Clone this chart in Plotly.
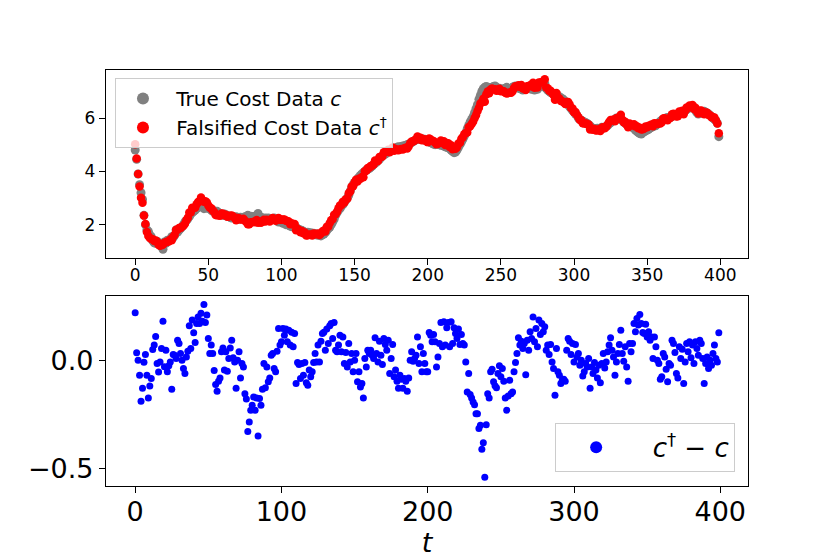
import plotly.graph_objects as go
from plotly.subplots import make_subplots

t = list(range(400))

true_cost = [
    4.80, 4.45, 3.90, 3.50, 3.20, 2.95, 2.35, 2.00, 1.80, 1.75,
    1.62, 1.55, 1.40, 1.32, 1.30, 1.38, 1.30, 1.22, 1.18, 1.08,
    1.35, 1.30, 1.42, 1.40, 1.45, 1.55, 1.52, 1.60, 1.80, 1.72,
    1.80, 1.85, 1.92, 2.00, 2.10, 2.15, 2.22, 2.30, 2.40, 2.45,
    2.50, 2.55, 2.60, 2.65, 2.70, 2.80, 2.72, 2.60, 2.70, 2.62,
    2.62, 2.60, 2.55, 2.50, 2.52, 2.48, 2.50, 2.45, 2.42, 2.38,
    2.35, 2.40, 2.33, 2.35, 2.30, 2.28, 2.25, 2.30, 2.27, 2.30,
    2.25, 2.20, 2.28, 2.22, 2.25, 2.30, 2.28, 2.35, 2.30, 2.32,
    2.30, 2.28, 2.32, 2.35, 2.42, 2.30, 2.28, 2.25, 2.20, 2.25,
    2.22, 2.25, 2.20, 2.18, 2.22, 2.25, 2.20, 2.15, 2.10, 2.12,
    2.10, 2.05, 2.08, 2.00, 2.05, 1.98, 1.95, 1.92, 1.95, 1.90,
    1.90, 1.85, 1.82, 1.80, 1.78, 1.75, 1.72, 1.70, 1.72, 1.68,
    1.70, 1.65, 1.68, 1.62, 1.65, 1.60, 1.62, 1.58, 1.62, 1.65,
    1.70, 1.78, 1.85, 1.90, 2.00, 2.10, 2.20, 2.35, 2.45, 2.55,
    2.60, 2.70, 2.75, 2.85, 2.92, 3.00, 3.10, 3.25, 3.40, 3.50,
    3.58, 3.65, 3.72, 3.78, 3.85, 3.90, 3.95, 4.00, 4.05, 4.08,
    4.10, 4.15, 4.20, 4.25, 4.30, 4.35, 4.40, 4.45, 4.52, 4.58,
    4.62, 4.65, 4.70, 4.72, 4.78, 4.80, 4.82, 4.85, 4.88, 4.90,
    4.92, 4.90, 4.93, 4.95, 4.95, 4.98, 5.00, 5.02, 5.05, 5.08,
    5.12, 5.15, 5.18, 5.20, 5.22, 5.20, 5.22, 5.18, 5.20, 5.18,
    5.15, 5.10, 5.08, 5.05, 5.02, 5.00, 5.05, 5.02, 5.00, 4.98,
    5.00, 4.95, 4.92, 4.90, 4.88, 4.85, 4.80, 4.75, 4.70, 4.72,
    4.80, 4.90, 5.00, 5.10, 5.20, 5.32, 5.45, 5.60, 5.72, 5.85,
    5.95, 6.05, 6.20, 6.35, 6.50, 6.70, 6.85, 7.00, 7.10, 7.15,
    7.18, 7.15, 7.10, 7.12, 7.15, 7.18, 7.20, 7.15, 7.10, 7.12,
    7.08, 7.05, 7.10, 7.12, 7.15, 7.10, 7.05, 7.10, 7.15, 7.18,
    7.20, 7.15, 7.12, 7.10, 7.15, 7.05, 7.08, 7.12, 7.10, 7.15,
    7.10, 7.08, 7.12, 7.05, 7.10, 7.08, 7.15, 7.20, 7.18, 7.25,
    7.30, 7.10, 7.05, 7.00, 6.95, 6.95, 6.90, 6.85, 6.88, 6.82,
    6.80, 6.75, 6.72, 6.68, 6.62, 6.55, 6.50, 6.42, 6.35, 6.28,
    6.22, 6.15, 6.10, 6.00, 5.95, 5.92, 5.88, 5.85, 5.82, 5.80,
    5.75, 5.70, 5.65, 5.62, 5.60, 5.58, 5.62, 5.60, 5.62, 5.65,
    5.62, 5.65, 5.68, 5.72, 5.78, 5.82, 5.88, 5.92, 5.95, 6.00,
    5.98, 5.95, 5.98, 5.90, 5.85, 5.80, 5.78, 5.75, 5.72, 5.70,
    5.65, 5.60, 5.55, 5.50, 5.45, 5.42, 5.40, 5.45, 5.48, 5.52,
    5.55, 5.58, 5.62, 5.65, 5.68, 5.70, 5.72, 5.78, 5.82, 5.88,
    5.92, 5.95, 5.98, 6.00, 6.02, 6.00, 6.03, 6.05, 6.08, 6.10,
    6.12, 6.15, 6.18, 6.20, 6.22, 6.25, 6.28, 6.32, 6.35, 6.38,
    6.40, 6.42, 6.35, 6.30, 6.20, 6.15, 6.18, 6.20, 6.22, 6.25,
    6.22, 6.18, 6.15, 6.10, 6.05, 6.00, 5.95, 5.90, 5.80, 5.30,
]

# Falsification c_dagger - c
diff = [
    0.220, 0.034, 0.000, -0.070, -0.190, -0.130, -0.010, 0.026, -0.070, -0.175,
    -0.120, -0.085, 0.050, 0.070, 0.110, -0.015, -0.055, -0.008, 0.054, 0.180,
    -0.030, 0.046, -0.054, -0.026, -0.008, -0.135, 0.026, 0.023, 0.008, 0.093,
    0.077, 0.031, 0.000, -0.039, -0.062, 0.015, 0.042, 0.160, 0.054, 0.186,
    0.127, 0.082, 0.170, 0.200, 0.170, 0.217, 0.180, 0.258, 0.175, 0.210,
    0.100, 0.031, 0.070, 0.031, -0.048, -0.113, -0.144, -0.098, -0.082, 0.039,
    0.057, -0.046, 0.039, -0.051, 0.008, 0.057, 0.093, 0.011, -0.008, -0.130,
    0.000, 0.039, -0.082, -0.015, -0.031, -0.155, -0.180, -0.330, -0.286, -0.232,
    -0.209, -0.170, -0.232, -0.175, -0.351, -0.178, -0.209, -0.135, -0.015, -0.128,
    -0.031, -0.100, -0.082, 0.023, 0.031, -0.039, -0.054, 0.042, 0.147, 0.070,
    0.085, 0.147, 0.116, 0.144, 0.085, 0.139, 0.070, 0.130, 0.062, 0.124,
    -0.108, -0.011, -0.020, -0.085, -0.015, -0.070, -0.011, -0.104, -0.116, -0.046,
    -0.077, -0.054, -0.011, 0.031, -0.008, 0.070, -0.008, 0.088, 0.124, 0.130,
    0.046, 0.144, 0.077, 0.160, 0.170, 0.100, 0.175, 0.046, 0.039, 0.070,
    0.116, 0.039, 0.108, -0.015, 0.036, -0.031, 0.077, -0.008, 0.031, -0.054,
    0.000, 0.031, -0.100, -0.054, -0.124, -0.108, -0.175, 0.008, -0.031, 0.046,
    0.031, 0.046, 0.023, 0.008, 0.104, 0.031, -0.008, 0.088, 0.023, -0.020,
    0.100, 0.073, 0.046, 0.093, -0.062, 0.008, 0.073, -0.077, -0.046, -0.098,
    -0.130, -0.070, -0.088, -0.130, -0.085, -0.098, -0.144, -0.082, 0.000, 0.039,
    -0.005, 0.008, 0.023, 0.108, -0.015, 0.062, -0.054, 0.031, -0.015, -0.054,
    -0.054, 0.128, 0.116, 0.085, 0.119, 0.085, -0.031, 0.015, 0.077, 0.175,
    0.062, 0.178, 0.070, 0.150, 0.175, 0.062, 0.178, 0.077, 0.150, 0.124,
    0.100, 0.144, 0.073, 0.119, 0.077, 0.070, -0.008, -0.147, -0.062, -0.159,
    -0.175, -0.194, -0.206, -0.248, -0.248, -0.317, -0.302, -0.413, -0.382, -0.543,
    -0.299, -0.155, -0.175, -0.054, -0.042, -0.100, -0.119, -0.128, -0.062, -0.026,
    -0.077, -0.039, -0.098, -0.175, -0.232, -0.166, -0.093, -0.155, -0.147, -0.054,
    -0.011, 0.031, 0.104, 0.070, 0.088, 0.054, 0.077, -0.067, 0.093, 0.046,
    0.132, 0.100, 0.200, 0.085, 0.147, 0.062, 0.186, 0.119, 0.170, 0.132,
    0.155, 0.046, 0.070, 0.026, 0.073, -0.008, -0.039, -0.163, 0.054, -0.054,
    -0.070, -0.108, -0.093, -0.088, -0.098, 0.046, 0.100, 0.088, 0.026, 0.077,
    -0.008, 0.073, 0.015, 0.031, -0.023, 0.000, -0.073, -0.054, -0.015, -0.031,
    0.008, -0.130, -0.031, -0.062, -0.011, -0.046, -0.082, -0.023, -0.104, -0.015,
    0.031, -0.036, -0.008, 0.039, 0.070, 0.104, 0.046, 0.015, -0.070, -0.008,
    0.031, 0.073, 0.139, 0.031, -0.005, 0.062, -0.031, -0.098, 0.077, 0.039,
    0.077, 0.170, 0.132, 0.193, 0.163, 0.212, 0.170, 0.128, 0.124, 0.166,
    0.108, 0.132, 0.093, 0.108, 0.008, 0.108, 0.062, 0.000, -0.015, -0.088,
    -0.077, 0.031, 0.015, -0.042, -0.100, -0.015, -0.023, 0.093, 0.077, 0.036,
    -0.062, -0.082, 0.062, 0.008, 0.051, -0.108, -0.008, 0.077, 0.039, 0.085,
    0.011, 0.070, -0.015, 0.085, 0.054, 0.023, 0.093, 0.077, 0.008, -0.108,
    -0.015, 0.015, -0.039, 0.000, -0.023, 0.031, 0.070, 0.008, -0.008, 0.127,
]

# Falsified data is the true data plus the plotted falsification
falsified_cost = [c + d for c, d in zip(true_cost, diff)]

top_x_ticks = [0, 50, 100, 150, 200, 250, 300, 350, 400]
top_y_ticks = [2, 4, 6]
bot_x_ticks = [0, 100, 200, 300, 400]
bot_y_ticks = [-0.5, 0.0]

FONT = "DejaVu Sans"
NB = "\u00a0"

fig = make_subplots(rows=2, cols=1, vertical_spacing=0.09)

fig.add_trace(go.Scatter(
    x=t, y=true_cost, mode="markers", name=NB + "True Cost Data <i>c</i>",
    marker=dict(color="grey", size=9, line=dict(width=0)),
    legend="legend"), row=1, col=1)
fig.add_trace(go.Scatter(
    x=t, y=falsified_cost, mode="markers",
    name=NB + "Falsified Cost Data <i>c</i><sup>†</sup>",
    marker=dict(color="red", size=8.5, line=dict(width=0)),
    legend="legend"), row=1, col=1)
fig.add_trace(go.Scatter(
    x=t, y=diff, mode="markers", name=NB + NB + "<i>c</i><sup>†</sup> − <i>c</i>",
    marker=dict(color="blue", size=7, line=dict(width=0)),
    legend="legend2"), row=2, col=1)

axis_common = dict(
    showline=True, linecolor="black", linewidth=1.3, mirror=True,
    ticks="outside", ticklen=6, tickwidth=1.2, tickcolor="black",
    showgrid=False, zeroline=False, automargin=False,
)

fig.update_xaxes(axis_common)
fig.update_yaxes(axis_common)

fig.update_xaxes(range=[-19.95, 418.95], tickvals=top_x_ticks,
                 tickfont=dict(size=17, color="black"), row=1, col=1)
fig.update_yaxes(range=[0.75, 7.8], tickvals=top_y_ticks,
                 tickfont=dict(size=17, color="black"), row=1, col=1)
fig.update_xaxes(range=[-19.95, 418.95], tickvals=bot_x_ticks,
                 tickfont=dict(size=27, color="black"),
                 title=dict(text="<i>t</i>", font=dict(size=27, color="black"),
                            standoff=0),
                 row=2, col=1)
fig.update_yaxes(range=[-0.583, 0.298], tickvals=bot_y_ticks, tickformat=".1f",
                 tickfont=dict(size=27, color="black"), row=2, col=1)

try:
    fig.update_xaxes(ticklabelstandoff=-5)
except Exception:
    pass

fig.update_layout(
    width=830, height=554,
    margin=dict(l=98, r=90, t=62, b=76),
    paper_bgcolor="white", plot_bgcolor="white",
    font=dict(family=FONT, color="black"),
    xaxis=dict(domain=[0, 1]), xaxis2=dict(domain=[0, 1]),
    yaxis=dict(domain=[0.548, 1.0]), yaxis2=dict(domain=[0.0, 0.457]),
    legend=dict(
        x=0.014, y=0.981, xanchor="left", yanchor="top",
        bgcolor="rgba(255,255,255,0.8)", bordercolor="#cccccc", borderwidth=1,
        font=dict(size=20, family=FONT, color="black"),
        tracegroupgap=0, itemsizing="constant", itemwidth=44,
    ),
    legend2=dict(
        x=0.98, y=0.034, xanchor="right", yanchor="bottom",
        bgcolor="rgba(255,255,255,0.8)", bordercolor="#cccccc", borderwidth=1,
        font=dict(size=26, family=FONT, color="black"),
        itemsizing="constant", itemwidth=70,
    ),
    showlegend=True,
)

fig.write_html("out.html")
